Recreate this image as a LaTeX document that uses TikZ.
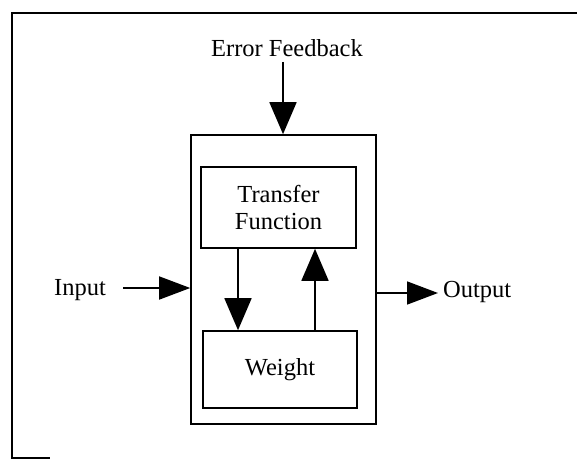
\documentclass[tikz,border=0pt]{standalone}
\usepackage{fontspec}
\setmainfont{Liberation Serif}
\usetikzlibrary{arrows.meta}
\begin{document}
\begin{tikzpicture}[x=1pt,y=-1pt,
  frame/.style={line width=1.6pt},
  blockbox/.style={draw,line width=1.6pt,minimum width=#1,inner sep=0pt,align=center,
    font=\fontsize{24.5}{27}\selectfont},
  lbl/.style={font=\fontsize{24.5}{27}\selectfont,inner sep=0pt},
  flow/.style={line width=1.6pt,-{Triangle[length=32pt,width=27pt]}},
  shortflow/.style={line width=1.6pt,-{Triangle[length=31pt,width=23pt]}}]
  \useasboundingbox (0,0) rectangle (577,462);
  % page frame
  \draw[frame] (577,13) -- (12,13) -- (12,458) -- (50,458);
  % neuron block and its parts
  \node[draw,line width=1.6pt,minimum width=185pt,minimum height=289pt,inner sep=0pt] (neuron) at (283.5,279.5) {};
  \node[blockbox=155pt,minimum height=81pt] (transfer) at (278.5,207.5) {Transfer\\Function};
  \node[blockbox=154pt,minimum height=77pt] (weight) at (280,369.5) {Weight};
  % labels
  \node[lbl] (err) at (287,48) {Error Feedback};
  \node[lbl] (inp) at (80,290) {Input};
  \node[lbl,anchor=west] (outp) at (443,292) {Output};
  % connector end points
  \coordinate (errfoot) at (283,62);
  \coordinate (instart) at (123,288);
  % connectors
  \draw[flow] (errfoot) -- (neuron.north -| errfoot);
  \draw[shortflow] (instart) -- (neuron.west |- instart);
  \draw[shortflow,shorten >=5pt] (neuron.east |- 0,293) -- (outp.west |- 0,293);
  \draw[flow] (transfer.south -| 238,0) -- (weight.north -| 238,0);
  \draw[flow] (weight.north -| 315,0) -- (transfer.south -| 315,0);
\end{tikzpicture}
\end{document}
